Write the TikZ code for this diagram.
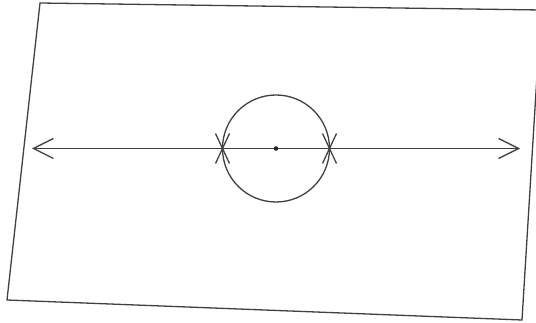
\documentclass[tikz,border=0pt]{standalone}
\usetikzlibrary{arrows.meta,calc}
\begin{document}
\begin{tikzpicture}[x=1pt,y=-1pt,
  ink/.style={draw=black!75,line width=1.3pt},
  tip/.style={-{Straight Barb[length=20pt,width=20pt,line width=1.3pt]}}]
\useasboundingbox (0,0) rectangle (536,323);
\begin{scope}
\clip (0,0) rectangle (536,323);
% frame
\draw[ink,line join=miter] (40,3) -- (541,10) -- (522,320) -- (7,300) -- cycle;
\end{scope}
% named points
\coordinate (c) at (276,148.5);
\coordinate (L) at (32,148.5);
\coordinate (R) at (520,148.5);
\coordinate (pl) at (222.5,148.5);
\coordinate (pr) at (329.5,148.5);
% axis with arrows
\draw[ink,tip] (c) -- (R);
\draw[ink,tip] (c) -- (L);
% circle
\draw[ink] (c) circle[radius=53.5];
\fill[black!85] (c) circle[radius=2.3];
% cross marks at intersections
\draw[ink] ($(pl)+(-7,-15)$) -- ($(pl)+(7,15)$);
\draw[ink] ($(pl)+(-7,15)$) -- ($(pl)+(7,-15)$);
\draw[ink] ($(pr)+(-7,-15)$) -- ($(pr)+(7,15)$);
\draw[ink] ($(pr)+(-7,15)$) -- ($(pr)+(7,-15)$);
\end{tikzpicture}
\end{document}
